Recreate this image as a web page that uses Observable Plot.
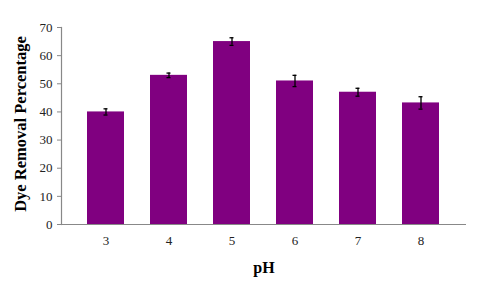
<!DOCTYPE html>
<html>
<head>
<meta charset="utf-8">
<script src="https://cdn.jsdelivr.net/npm/d3@7"></script>
<script src="https://cdn.jsdelivr.net/npm/@observablehq/plot@0.6"></script>
<style>
  html, body { margin: 0; padding: 0; background: #fff; }
  #chart svg { display: block; }
  #chart svg, #chart svg text { font-family: "Liberation Serif", "Times New Roman", serif !important; }
</style>
</head>
<body>
<div id="chart"></div>
<script>
const phLevels = ["3", "4", "5", "6", "7", "8"];
const removal = [40, 53, 65, 51, 47, 43.2];
const errors = [1.1, 0.8, 1.35, 2.0, 1.4, 2.2];
const yTicks = [0, 10, 20, 30, 40, 50, 60, 70];

const data = phLevels.map((p, i) => ({ph: p, value: removal[i], err: errors[i]}));
const serif = "Liberation Serif";

const chart = Plot.plot({
  width: 482,
  height: 290,
  marginLeft: 61,
  marginRight: 16,
  marginTop: 27,
  marginBottom: 66,
  style: { fontFamily: serif, fontSize: "12px", color: "#222", background: "#fff" },
  x: { domain: phLevels, padding: 0.41, label: null },
  y: { domain: [0, 70], label: null },
  marks: [
    Plot.barY(data, { x: "ph", y: "value", fill: "#800080" }),
    Plot.ruleX(data, { x: "ph", y1: d => d.value - d.err, y2: d => d.value + d.err, stroke: "#000", strokeWidth: 1.3 }),
    Plot.tickY(data, { x: "ph", y: d => d.value - d.err, stroke: "#000", strokeWidth: 1.3, insetLeft: 16.5, insetRight: 16.5 }),
    Plot.tickY(data, { x: "ph", y: d => d.value + d.err, stroke: "#000", strokeWidth: 1.3, insetLeft: 16.5, insetRight: 16.5 }),
    Plot.ruleY([0], { stroke: "#888", strokeWidth: 1.2 }),
    Plot.frame({ anchor: "left", stroke: "#888", strokeWidth: 1.2 }),
    Plot.axisY({ ticks: yTicks, tickSize: 4, tickPadding: 5, stroke: "#888", fontSize: 13, fontFamily: serif, label: null }),
    Plot.axisX({ tickSize: 0, tickPadding: 11, fontSize: 13, fontFamily: serif, label: null }),
    Plot.text(["pH"], { frameAnchor: "bottom", dy: 48, text: d => d, fontWeight: "bold", fontSize: 16, fontFamily: serif, fill: "#000" }),
    Plot.text(["Dye Removal Percentage"], { frameAnchor: "left", textAnchor: "middle", dx: -41, dy: -2, rotate: -90, text: d => d, fontWeight: "bold", fontSize: 16.5, fontFamily: serif, fill: "#000" })
  ]
});

document.getElementById("chart").appendChild(chart);
</script>
</body>
</html>
